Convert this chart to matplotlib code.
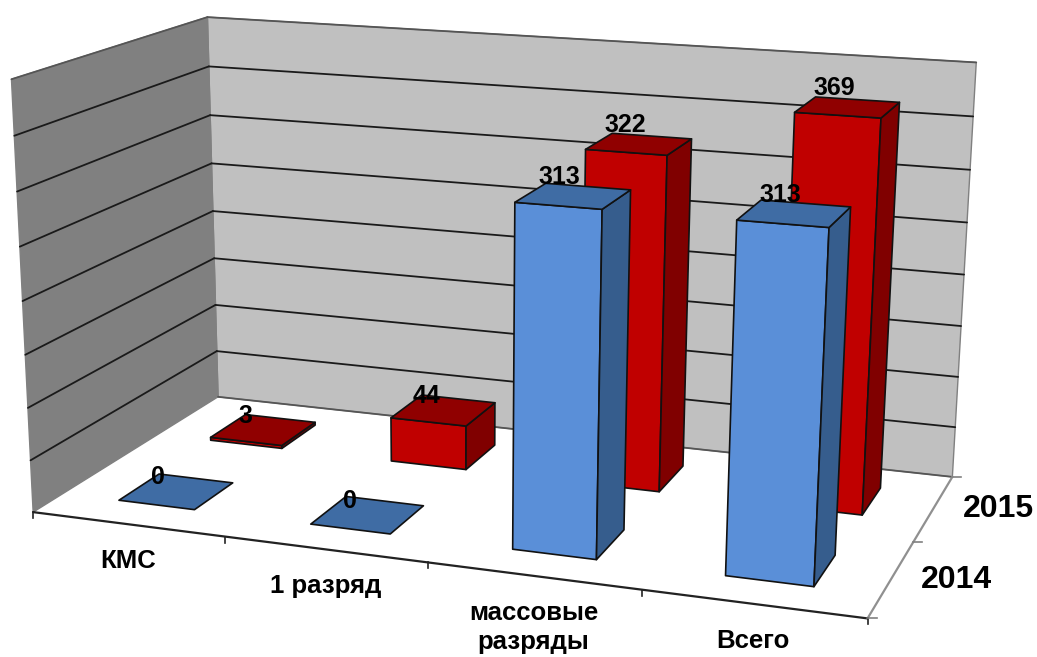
"""3D-style clustered bars drawn on a flat axes with a small camera projection."""
import matplotlib
matplotlib.use("Agg")
import matplotlib.pyplot as plt
import numpy as np
from matplotlib.patches import Polygon

plt.rcParams["font.family"] = ["Liberation Sans", "DejaVu Sans"]

categories = ["КМС", "1 разряд", "массовые\nразряды", "Всего"]
years = ["2014", "2015"]
values_2014 = [0, 0, 313, 313]
values_2015 = [3, 44, 322, 369]
y_max = 400
y_step = 50

W, H = 1037, 657

# box corners: (category pos, depth, height) -> picture position
BOX_WORLD = [(0, 0, 0), (1, 0, 0), (1, 1, 0), (0, 1, 0),
             (0, 0, 1), (1, 0, 1), (1, 1, 1), (0, 1, 1)]
BOX_PIXEL = [(33, 511), (867, 618), (953, 477), (218, 398),
             (11, 78), (892, 143), (975, 60), (208, 18)]


def fit_camera(world, pixel):
    rows = []
    for (x, y, z), (px, py) in zip(world, pixel):
        rows.append([x, y, z, 1, 0, 0, 0, 0, -px * x, -px * y, -px * z, -px])
        rows.append([0, 0, 0, 0, x, y, z, 1, -py * x, -py * y, -py * z, -py])
    return np.linalg.svd(np.array(rows, dtype=float))[2][-1].reshape(3, 4)


CAM = fit_camera(BOX_WORLD, BOX_PIXEL)


def proj(x, y, z):
    p = CAM @ np.array([x, y, z, 1.0])
    return p[0] / p[2], p[1] / p[2]


def quad(ax, corners, color, edge, lw=1.2, zorder=2):
    ax.add_patch(Polygon([proj(*c) for c in corners], closed=True, facecolor=color,
                         edgecolor=edge, linewidth=lw, joinstyle="round", zorder=zorder))


def line3(ax, a, b, color, lw=1.3, zorder=1.5):
    pa, pb = proj(*a), proj(*b)
    ax.plot([pa[0], pb[0]], [pa[1], pb[1]], color=color, lw=lw, zorder=zorder,
            solid_capstyle="round")


fig = plt.figure(figsize=(W / 100, H / 100), dpi=100, facecolor="white")
ax = fig.add_axes([0, 0, 1, 1])
ax.set_xlim(0, W)
ax.set_ylim(H, 0)
ax.axis("off")

# walls and floor
quad(ax, [(0, 1, 0), (1, 1, 0), (1, 1, 1), (0, 1, 1)], "#C0C0C0", "#808080", lw=1, zorder=1)
quad(ax, [(0, 0, 0), (0, 1, 0), (0, 1, 1), (0, 0, 1)], "#808080", "#808080", lw=1, zorder=1)
for tick in np.arange(y_step, y_max + y_step, y_step):
    z = tick / y_max
    line3(ax, (0, 1, z), (1, 1, z), "#1a1a1a" if tick < y_max else "#555555")
    line3(ax, (0, 0, z), (0, 1, z), "#1a1a1a" if tick < y_max else "#555555")
line3(ax, (0, 1, 0), (1, 1, 0), "#555555")

# axis lines and ticks
line3(ax, (0, 0, 0), (1, 0, 0), "#222222", lw=1.6)
line3(ax, (1, 0, 0), (1, 1, 0), "#909090", lw=1.6)
for i in range(len(categories) + 1):
    px, py = proj(i / len(categories), 0, 0)
    ax.plot([px, px], [py, py + 6], color="#222222", lw=1.2, zorder=1.5)
for j in range(len(years) + 1):
    px, py = proj(1, j / len(years), 0)
    ax.plot([px, px + 9], [py, py], color="#808080", lw=1.2, zorder=1.5)

# bars: back row first
BAR_W = 0.40
DEPTH_PAD = 0.29
STYLES = {
    "2014": ("#5A8FD8", "#3F6CA4", "#365D8D"),
    "2015": ("#C00000", "#900000", "#800000"),
}
series = {"2014": values_2014, "2015": values_2015}
for j in [1, 0]:
    year = years[j]
    front_c, top_c, side_c = STYLES[year]
    y0 = (j + DEPTH_PAD) / len(years)
    y1 = (j + 1 - DEPTH_PAD) / len(years)
    for i, val in enumerate(series[year]):
        x0 = (i + 0.5 - BAR_W / 2) / len(categories)
        x1 = (i + 0.5 + BAR_W / 2) / len(categories)
        z = val / y_max
        zo = 3 + (1 - j) + i * 0.1
        if val > 0:
            quad(ax, [(x0, y0, 0), (x1, y0, 0), (x1, y0, z), (x0, y0, z)], front_c, "#111111", zorder=zo)
            quad(ax, [(x1, y0, 0), (x1, y1, 0), (x1, y1, z), (x1, y0, z)], side_c, "#111111", zorder=zo)
        quad(ax, [(x0, y0, z), (x1, y0, z), (x1, y1, z), (x0, y1, z)], top_c, "#111111", zorder=zo)
        cx, cy = proj((x0 + x1) / 2, (y0 + y1) / 2, z)
        # labels sit a bit higher and closer to the bar on the tall ones
        ax.text(cx - 18 + 5 * z, cy - 14 - 6 * z, str(val), ha="center", va="center", fontsize=18,
                fontweight="bold", color="black", zorder=6)

# axis labels
for i, name in enumerate(categories):
    px, py = proj((i + 0.5) / len(categories), 0, 0)
    off = 52 if "\n" in name else 37
    ax.text(px, py + off, name, ha="center", va="center", fontsize=18.5, fontweight="bold",
            linespacing=1.25, color="black")
for j, year in enumerate(years):
    px, py = proj(1, (j + 0.5) / len(years), 0)
    ax.text(px + 65, py + 1, year, ha="center", va="center", fontsize=23,
            fontweight="bold", color="black")

fig.savefig("out.png", dpi=100, facecolor="white")
plt.close(fig)
